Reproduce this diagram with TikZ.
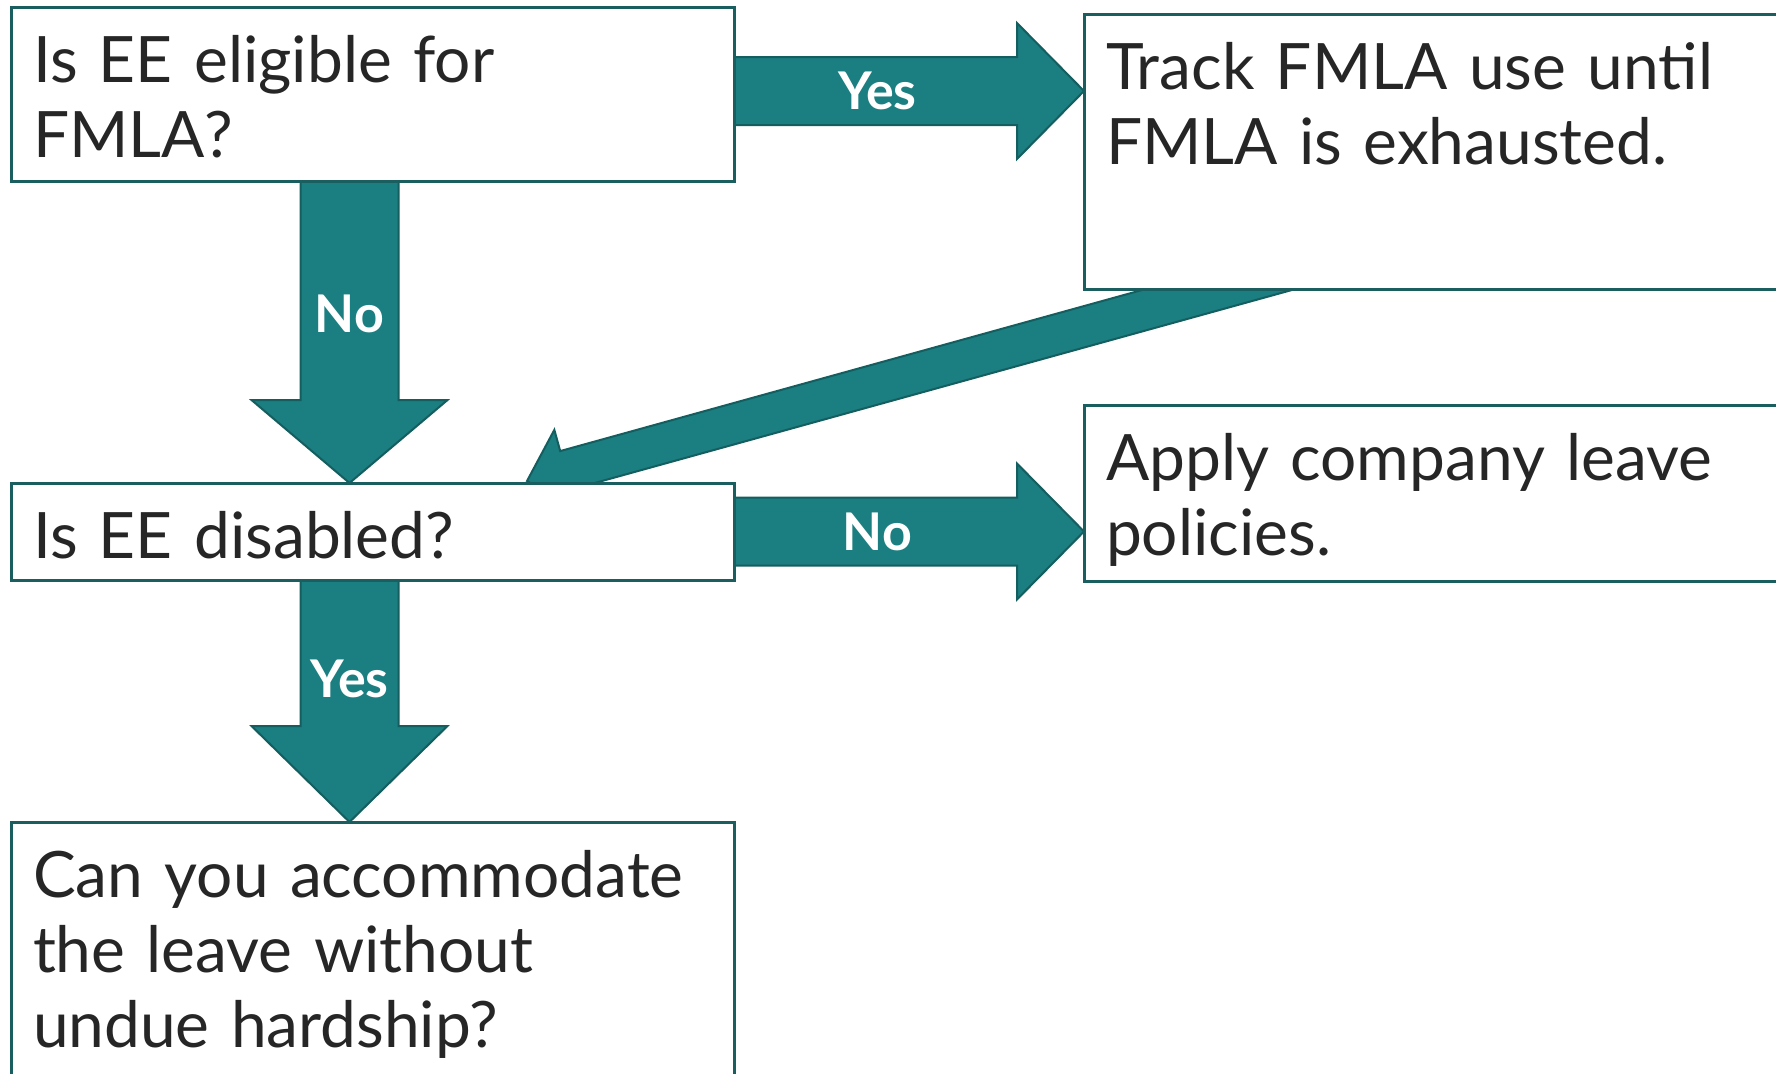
\documentclass[tikz,border=0pt]{standalone}
\usepackage{fontspec}
\setmainfont{Lato}
\usetikzlibrary{calc,positioning,backgrounds}
\hyphenpenalty=10000

\definecolor{arrowfill}{HTML}{1B7E80}
\definecolor{arrowline}{HTML}{145E60}
\definecolor{boxline}{HTML}{1A5E60}
\definecolor{textgray}{HTML}{262626}

% block arrow: name, start, end, shaft half width, head half width, head length
\newcommand\fatarrow[6]{%
  \coordinate (#1-s) at (#2);
  \coordinate (#1-e) at (#3);
  \coordinate (#1-h) at ($(#1-e)!#6!(#1-s)$);
  \begin{scope}[on background layer]
    \filldraw[blockarrow] ($(#1-s)!#4!90:(#1-e)$) -- ($(#1-h)!#4!90:(#1-e)$) -- ($(#1-h)!#5!90:(#1-e)$)
      -- (#1-e) -- ($(#1-h)!#5!-90:(#1-e)$) -- ($(#1-h)!#4!-90:(#1-e)$) -- ($(#1-s)!#4!-90:(#1-e)$) -- cycle;
  \end{scope}
}

\begin{document}
\begin{tikzpicture}[
    x=0.5pt, y=-0.5pt,
    stepbox/.style={rectangle,draw=boxline,line width=1.5pt,fill=white,anchor=north west,align=left,
      inner xsep=11pt,inner ysep=0pt,outer sep=0pt,text height=37.5pt,text=textgray,
      font=\fontsize{32}{37.5}\selectfont},
    blockarrow/.style={fill=arrowfill,draw=arrowline,line width=1pt,line join=miter},
    flowlabel/.style={text=white,font=\bfseries\fontsize{26}{28}\selectfont,inner sep=0pt}
]
    \useasboundingbox (0,0) rectangle (1776,1073);
    \clip (0,0) rectangle (1776,1073);

    \node[stepbox,text width=339.5pt,text depth=49.5pt] (elig) at (11,7) {Is EE eligible for\\FMLA?};
    \node[stepbox,text width=334pt,text depth=100pt,right=175pt of elig.north east,anchor=north west,yshift=-3.5pt] (track) {Track FMLA use until\\FMLA is exhausted.};
    \node[stepbox,text width=339.5pt,text depth=11pt,below=151pt of elig.south west,anchor=north west] (disabled) {Is EE disabled?};
    \node[stepbox,text width=334pt,text depth=50.5pt,right=175pt of disabled.north east,anchor=north west,yshift=39pt] (apply) {Apply company leave\\policies.};
    \node[stepbox,text width=339.5pt,text depth=101.5pt,below=121pt of disabled.south west,anchor=north west] (canyou) {Can you accommodate\\the leave without\\undue hardship?};

    \fatarrow{ya}{[yshift=1.5pt]elig.east}{ya-s -| track.west}{17pt}{34pt}{33.5pt}
    \fatarrow{na}{[xshift=-11.5pt]elig.south}{na-s |- disabled.north}{24.5pt}{49pt}{41.5pt}
    \fatarrow{nb}{disabled.east}{nb-s -| apply.west}{17pt}{34pt}{33.5pt}
    \fatarrow{yb}{[xshift=-11.5pt]disabled.south}{yb-s |- canyou.north}{24.5pt}{49pt}{48pt}
    \fatarrow{da}{[xshift=108pt,yshift=11pt]track.south west}{[xshift=258pt,yshift=1pt]disabled.north west}{10pt}{21pt}{20pt}

    \node[flowlabel] (yeslabel) at ($(ya-s)!0.41!(ya-e)$) {Yes};
    \node[flowlabel] (nolabel) at ($(na-s)!0.44!(na-e)$) {No};
    \node[flowlabel] (nolabel2) at ($(nb-s)!0.41!(nb-e)$) {No};
    \node[flowlabel] (yeslabel2) at ($(yb-s)!0.41!(yb-e)$) {Yes};
\end{tikzpicture}
\end{document}
